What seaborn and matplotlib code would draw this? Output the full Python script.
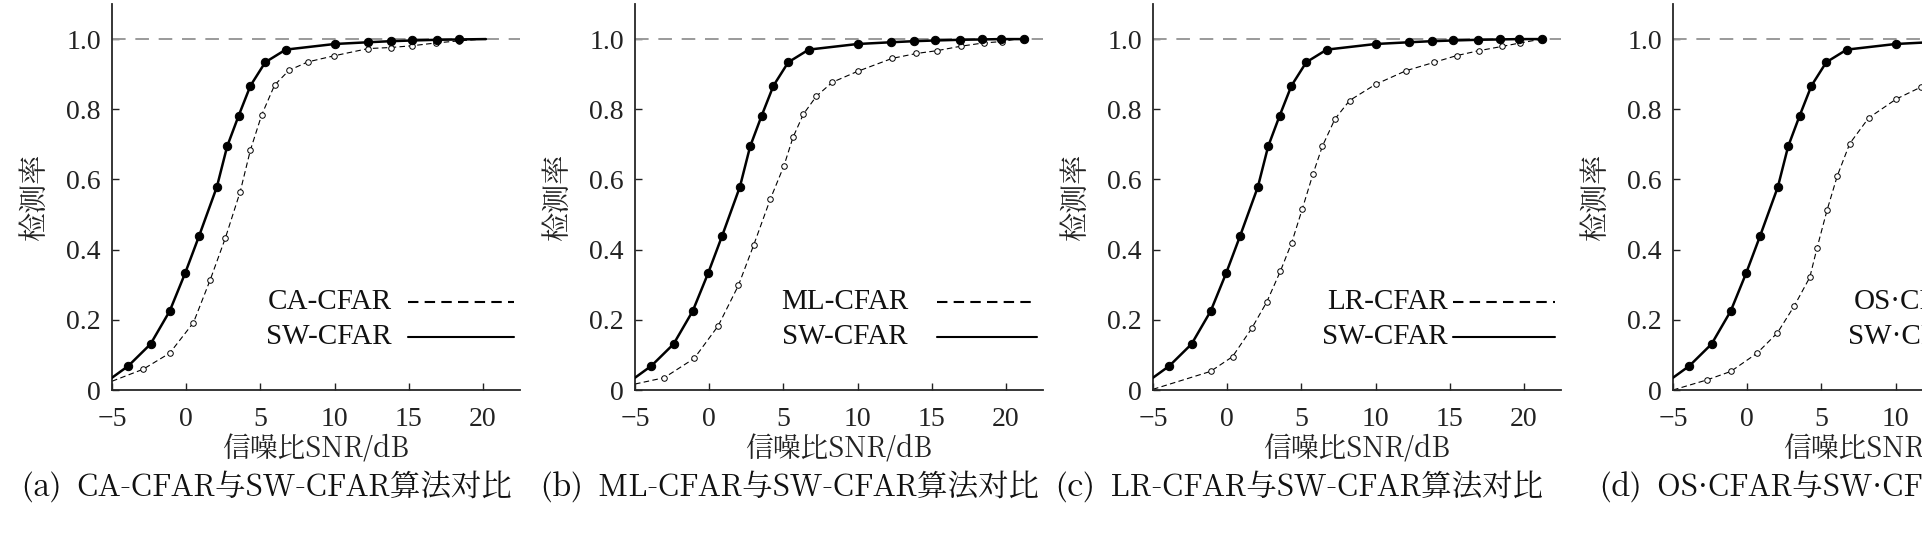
import numpy as np
import pandas as pd
import matplotlib
matplotlib.use("Agg")
import matplotlib.pyplot as plt
import seaborn as sns
from matplotlib import font_manager as fm

sns.set_style("ticks")
plt.rcParams["font.family"] = ["Liberation Serif", "Noto Sans CJK SC"]
plt.rcParams["axes.unicode_minus"] = True

# ---- data ----
sw_x = [-5.0, -3.89, -2.4, -1.11, -0.07, 0.87, 2.07, 2.76, 3.53, 4.33, 5.33, 6.71, 10.0, 12.27, 13.78, 15.2, 16.9, 18.4, 19.65, 21.2]
sw_y = [0.035, 0.069, 0.131, 0.225, 0.333, 0.439, 0.579, 0.694, 0.781, 0.867, 0.934, 0.970, 0.986, 0.991, 0.994, 0.996, 0.998, 0.999, 1.0, 1.0]

ca_x = [-5.0, -2.91, -1.11, 0.49, 1.62, 2.64, 3.64, 4.33, 5.09, 5.96, 6.93, 8.2, 9.93, 12.27, 13.78, 15.22, 16.84, 18.4, 20.0]
ca_y = [0.025, 0.059, 0.105, 0.192, 0.314, 0.433, 0.565, 0.684, 0.784, 0.869, 0.911, 0.935, 0.952, 0.973, 0.976, 0.981, 0.989, 0.995, 1.0]

ml_x = [-5.0, -3.03, -1.01, 0.61, 1.97, 3.0, 4.13, 5.04, 5.65, 6.35, 7.22, 8.3, 10.0, 12.33, 13.97, 15.36, 17.0, 18.5, 19.73, 20.7]
ml_y = [0.017, 0.035, 0.09, 0.183, 0.298, 0.413, 0.545, 0.639, 0.72, 0.786, 0.837, 0.877, 0.908, 0.945, 0.959, 0.967, 0.98, 0.989, 0.993, 1.0]

lr_x = [-5.0, -1.12, 0.36, 1.66, 2.67, 3.59, 4.35, 5.07, 5.78, 6.41, 7.26, 8.25, 10.0, 12.06, 13.97, 15.47, 16.97, 18.52, 19.75, 21.2]
lr_y = [0.002, 0.053, 0.095, 0.176, 0.251, 0.339, 0.42, 0.517, 0.615, 0.694, 0.772, 0.825, 0.871, 0.91, 0.934, 0.953, 0.967, 0.979, 0.989, 1.0]

os_x = [-5.0, -2.69, -1.1, 0.67, 2.04, 3.18, 4.22, 4.71, 5.38, 6.08, 6.91, 8.18, 10.04, 11.7, 13.5, 15.3, 17.0, 18.5, 20.0]
os_y = [0.0, 0.029, 0.053, 0.105, 0.163, 0.240, 0.321, 0.405, 0.512, 0.611, 0.702, 0.775, 0.829, 0.863, 0.9, 0.93, 0.955, 0.975, 0.99]

names = ["CA-CFAR", "ML-CFAR", "LR-CFAR", "OS·CFAR"]
sw_names = ["SW-CFAR", "SW-CFAR", "SW-CFAR", "SW·CFAR"]
captions = ["(a)  CA-CFAR与SW-CFAR算法对比", "(b)  ML-CFAR与SW-CFAR算法对比",
            "(c)  LR-CFAR与SW-CFAR算法对比", "(d)  OS·CFAR与SW·CFAR算法对比"]
other = [(ca_x, ca_y), (ml_x, ml_y), (lr_x, lr_y), (os_x, os_y)]
sw_len = [19, 20, 20, 20]
xticks = [-5, 0, 5, 10, 15, 20]
xtick_labels = ["\u22125", "0", "5", "10", "15", "20"]
yticks = [0, 0.2, 0.4, 0.6, 0.8, 1.0]
ytick_labels = ["0", "0.2", "0.4", "0.6", "0.8", "1.0"]

cjk_path = None
for f in fm.fontManager.ttflist:
    if "CJK" in f.name:
        cjk_path = f.fname
        if "SC" in f.name:
            break
cjk_name = fm.FontProperties(fname=cjk_path).get_name() if cjk_path else "Noto Sans CJK SC"
cjk = {"family": [cjk_name]}

W, H = 1922, 553
fig = plt.figure(figsize=(W / 100, H / 100), dpi=100)
lefts = [112, 635, 1153, 1673]
aw, bottom, ah = 408, 163, 386
legend_pos = [(0.686, 0.725), (0.669, 0.74), (0.723, 0.735), (0.74, 0.75)]
cap_x = [0.38, 0.38, 0.36, 0.42]

for i in range(4):
    ax = fig.add_axes([lefts[i] / W, bottom / H, aw / W, ah / H])
    ox, oy = other[i]
    ax.axhline(1.0, color="#9a9a9a", lw=1.4, ls=(0, (7, 5)), zorder=1)
    df_o = pd.DataFrame({"x": ox, "y": oy})
    sns.lineplot(data=df_o, x="x", y="y", ax=ax, color="black", lw=0.8, ls=(0, (5, 3)),
                 marker="o", markersize=4, mfc="white", mec="black", mew=0.7,
                 markevery=list(range(1, len(ox) - 1)), sort=False, zorder=2)
    n = sw_len[i]
    sx = sw_x[:n] if i else sw_x[:n - 1] + [20.2]
    sy = sw_y[:n]
    df_s = pd.DataFrame({"x": sx, "y": sy})
    me = list(range(1, n - 1)) if i == 0 else list(range(1, n))
    sns.lineplot(data=df_s, x="x", y="y", ax=ax, color="black", lw=1.8,
                 marker="o", markersize=6, mfc="black", mec="black",
                 markevery=me, sort=False, zorder=3)
    ax.set_xlim(-5, 22.5)
    ax.set_ylim(0, 1.1)
    ax.set_xticks(xticks)
    ax.set_xticklabels(xtick_labels)
    ax.set_yticks(yticks)
    ax.set_yticklabels(ytick_labels)
    ax.tick_params(direction="in", labelsize=20, length=5, width=1.0, colors="#222222")
    ax.tick_params(axis="x", pad=12)
    ax.tick_params(axis="y", pad=8)
    for s in ["top", "right"]:
        ax.spines[s].set_visible(False)
    for s in ["left", "bottom"]:
        ax.spines[s].set_linewidth(1.3)
    ax.set_xlabel("信噪比SNR/dB", fontsize=20, color="#222222", **cjk)
    ax.xaxis.set_label_coords(0.5, -0.115)
    ax.set_ylabel("检测率", fontsize=21, color="#222222", **cjk)
    ax.yaxis.set_label_coords(-0.15, 0.5)
    tr, l0 = legend_pos[i]
    for yy, lab, ls, lw in [(0.228, names[i], (0, (5, 3)), 1.5), (0.137, sw_names[i], "-", 1.5)]:
        ax.text(tr, yy, lab, transform=ax.transAxes, ha="right", va="center", fontsize=21, color="#111111")
        ax.plot([l0, 0.985], [yy, yy], transform=ax.transAxes, color="black", lw=lw, ls=ls)
    ax.text(cap_x[i], -0.255, captions[i], transform=ax.transAxes, ha="center", va="center",
            fontsize=22, color="#111111", **cjk)

fig.savefig("out.png", dpi=100)
